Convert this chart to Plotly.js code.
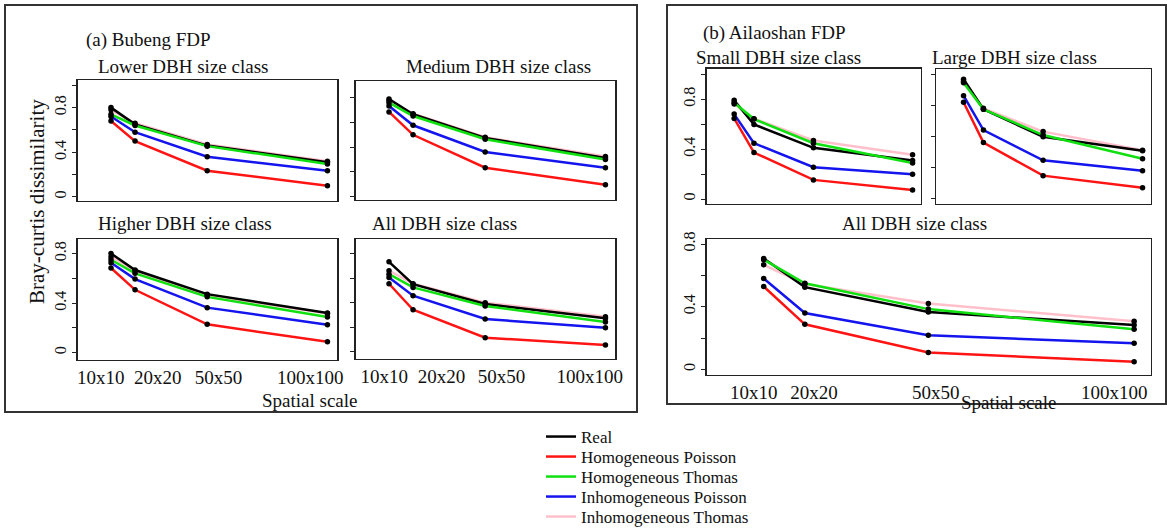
<!DOCTYPE html>
<html>
<head>
<meta charset="utf-8">
<script src="https://cdn.plot.ly/plotly-3.0.1.min.js"></script>
<style>html,body{margin:0;padding:0;background:#fff;overflow:hidden;}#chart{width:1167px;height:531px;}</style>
</head>
<body>
<div id="chart"></div>
<script>
// ---------------- DATA ----------------
const scales = [10, 20, 50, 100];
const scaleLabels = ["10x10", "20x20", "50x50", "100x100"];
const seriesNames = ["Real", "Homogeneous Poisson", "Homogeneous Thomas", "Inhomogeneous Poisson", "Inhomogeneous Thomas"];

// each subplot: [Real, Hom. Poisson, Hom. Thomas, Inhom. Poisson, Inhom. Thomas]
const bubengLower = [
  [0.80, 0.65, 0.46, 0.31],
  [0.68, 0.50, 0.235, 0.10],
  [0.74, 0.64, 0.455, 0.295],
  [0.72, 0.58, 0.36, 0.235],
  [0.78, 0.66, 0.47, 0.32]
];
const bubengMedium = [
  [0.79, 0.666, 0.474, 0.313],
  [0.685, 0.50, 0.234, 0.097],
  [0.76, 0.652, 0.464, 0.30],
  [0.733, 0.577, 0.361, 0.234],
  [0.775, 0.67, 0.48, 0.325]
];
const bubengHigher = [
  [0.80, 0.667, 0.472, 0.32],
  [0.683, 0.507, 0.228, 0.087],
  [0.75, 0.64, 0.45, 0.287],
  [0.725, 0.594, 0.363, 0.225],
  [0.775, 0.66, 0.465, 0.315]
];
const bubengAll = [
  [0.732, 0.551, 0.39, 0.273],
  [0.554, 0.343, 0.116, 0.057],
  [0.632, 0.524, 0.373, 0.243],
  [0.605, 0.457, 0.268, 0.197],
  [0.66, 0.555, 0.40, 0.286]
];
const ailaoshanSmall = [
  [0.79, 0.597, 0.41, 0.308],
  [0.645, 0.372, 0.153, 0.072],
  [0.77, 0.64, 0.447, 0.289],
  [0.68, 0.447, 0.254, 0.198],
  [0.76, 0.643, 0.469, 0.354]
];
const ailaoshanLarge = [
  [0.768, 0.574, 0.397, 0.307],
  [0.619, 0.359, 0.146, 0.068],
  [0.745, 0.574, 0.408, 0.255],
  [0.662, 0.44, 0.245, 0.178],
  [0.755, 0.58, 0.43, 0.31]
];
const ailaoshanAll = [
  [0.707, 0.525, 0.366, 0.284],
  [0.529, 0.288, 0.108, 0.049],
  [0.70, 0.55, 0.385, 0.256],
  [0.58, 0.36, 0.218, 0.167],
  [0.667, 0.545, 0.421, 0.307]
];

// ---------------- STYLE / LAYOUT ----------------
const W = 1167, H = 531;
const FONT = "Liberation Serif, Times New Roman, serif";
const colors = ["#000000", "#ff1414", "#10e010", "#1414ee", "#ffc0cb"];
const drawOrder = [4, 0, 2, 3, 1];
const legendRows = [437, 457, 477, 497, 517];
const px = p => p / W;
const py = p => 1 - p / H;

const panels = [
  {data: bubengLower, box: [77.7, 337.3, 80, 201], yr: [-0.036, 1.047], ticks: [0,0.2,0.4,0.6,0.8,1.0], ylab: true, xlabPos: null, title: "Lower DBH size class", tpos: [183, 67]},
  {data: bubengMedium, box: [355.7, 615.3, 81, 200], yr: [-0.027, 0.935], ticks: [0,0.2,0.4,0.6,0.8], ylab: false, xlabPos: null, title: "Medium DBH size class", tpos: [498, 67]},
  {data: bubengHigher, box: [77.7, 337.3, 239.3, 360], yr: [-0.06, 0.915], ticks: [0,0.2,0.4,0.6,0.8], ylab: true, xlabPos: [5.7, 29.4, 54.7, 92.9], title: "Higher DBH size class", tpos: [185, 224]},
  {data: bubengAll, box: [355.7, 615.3, 239.3, 359], yr: [-0.057, 0.915], ticks: [0,0.2,0.4,0.6,0.8], ylab: false, xlabPos: [8.0, 31.8, 56.8, 93.5], title: "All DBH size class", tpos: [444, 224]},
  {data: ailaoshanSmall, box: [706.7, 920.7, 68.5, 204], yr: [-0.04, 1.045], ticks: [0,0.2,0.4,0.6,0.8,1.0], ylab: true, xlabPos: null, title: "Small DBH size class", tpos: [778, 57]},
  {data: ailaoshanLarge, box: [936, 1150.7, 69, 204], yr: [-0.037, 0.834], ticks: [0,0.2,0.4,0.6,0.8], ylab: false, xlabPos: null, title: "Large DBH size class", tpos: [1014, 57]},
  {data: ailaoshanAll, box: [706.7, 1151, 239.3, 374.5], yr: [-0.032, 0.83], ticks: [0,0.2,0.4,0.6,0.8], ylab: true, xlabPos: [7.6, 22.2, 51.8, 95.2], title: "All DBH size class", tpos: [914, 224]}
];

const traces = [];
const layout = {
  width: W, height: H,
  margin: {l: 0, r: 0, t: 0, b: 0, pad: 0, autoexpand: false},
  paper_bgcolor: "#fff", plot_bgcolor: "#fff",
  font: {family: FONT, color: "#111", size: 16},
  showlegend: true,
  annotations: [],
  shapes: [
    {type: "rect", xref: "paper", yref: "paper", x0: px(5), x1: px(637), y0: py(5), y1: py(412), line: {color: "#333", width: 2}},
    {type: "rect", xref: "paper", yref: "paper", x0: px(667), x1: px(1166), y0: py(5), y1: py(404), line: {color: "#333", width: 2}}
  ]
};

// one small legend per series, so rows can sit 20px apart
seriesNames.forEach((nm, s) => {
  const key = s === 0 ? "legend" : "legend" + (s + 1);
  layout[key] = {
    x: px(541), y: py(legendRows[s]), xanchor: "left", yanchor: "middle",
    font: {family: FONT, size: 17, color: "#111"},
    bgcolor: "rgba(0,0,0,0)", borderwidth: 0, itemwidth: 30
  };
});

panels.forEach((p, i) => {
  const n = i + 1;
  const xa = n === 1 ? "x" : "x" + n;
  const ya = n === 1 ? "y" : "y" + n;
  const xk = n === 1 ? "xaxis" : "xaxis" + n;
  const yk = n === 1 ? "yaxis" : "yaxis" + n;
  layout[xk] = {
    domain: [px(p.box[0]), px(p.box[1])],
    range: [-3.85, 104.1],
    anchor: ya,
    showgrid: false, zeroline: false,
    showline: true, mirror: true, linecolor: "#222", linewidth: 1.3,
    ticks: "",
    showticklabels: !!p.xlabPos,
    tickmode: "array",
    tickvals: p.xlabPos || [],
    ticktext: p.xlabPos ? scaleLabels : [],
    tickfont: {family: FONT, size: 19, color: "#111"},
    automargin: false,
    fixedrange: true
  };
  layout[yk] = {
    domain: [py(p.box[3]), py(p.box[2])],
    range: p.yr,
    anchor: xa,
    showgrid: false, zeroline: false,
    showline: true, mirror: true, linecolor: "#222", linewidth: 1.3,
    ticks: "outside", ticklen: 4, tickcolor: "#222", tickwidth: 1,
    tickmode: "array",
    tickvals: p.ticks,
    ticktext: p.ticks.map(v => (Math.abs(v - 0) < 1e-9 ? "0" : Math.abs(v - 0.4) < 1e-9 ? "0.4" : Math.abs(v - 0.8) < 1e-9 ? "0.8" : "")),
    showticklabels: p.ylab,
    tickangle: -90,
    tickfont: {family: FONT, size: 16, color: "#111"},
    automargin: false,
    fixedrange: true
  };
  drawOrder.forEach(s => {
    traces.push({
      type: "scatter", mode: "lines",
      x: scales, y: p.data[s],
      xaxis: xa, yaxis: ya,
      name: seriesNames[s],
      legend: s === 0 ? "legend" : "legend" + (s + 1),
      showlegend: i === 0,
      line: {color: colors[s], width: 2.5},
      hoverinfo: "skip"
    });
  });
  p.data.forEach((vals, s) => {
    traces.push({
      type: "scatter", mode: "markers",
      x: scales, y: vals,
      xaxis: xa, yaxis: ya,
      showlegend: false,
      marker: {color: "#000", size: 5.5},
      hoverinfo: "skip"
    });
  });
  layout.annotations.push({
    xref: "paper", yref: "paper", x: px(p.tpos[0]), y: py(p.tpos[1]),
    xanchor: "center", yanchor: "middle", showarrow: false,
    text: p.title, font: {family: FONT, size: 19, color: "#111"}
  });
});

const extraText = [
  {t: "(a) Bubeng FDP", x: 148, y: 40, s: 19},
  {t: "(b) Ailaoshan FDP", x: 774, y: 33, s: 19},
  {t: "Spatial scale", x: 310, y: 400, s: 19},
  {t: "Spatial scale", x: 1009, y: 402, s: 19}
];
extraText.forEach(e => layout.annotations.push({
  xref: "paper", yref: "paper", x: px(e.x), y: py(e.y),
  xanchor: "center", yanchor: "middle", showarrow: false,
  text: e.t, font: {family: FONT, size: e.s, color: "#111"}
}));
layout.annotations.push({
  xref: "paper", yref: "paper", x: px(37), y: py(202),
  xanchor: "center", yanchor: "middle", showarrow: false, textangle: -90,
  text: "Bray-curtis dissimilarity", font: {family: FONT, size: 21, color: "#111"}
});

Plotly.newPlot("chart", traces, layout, {staticPlot: true, displayModeBar: false});
</script>
</body>
</html>
